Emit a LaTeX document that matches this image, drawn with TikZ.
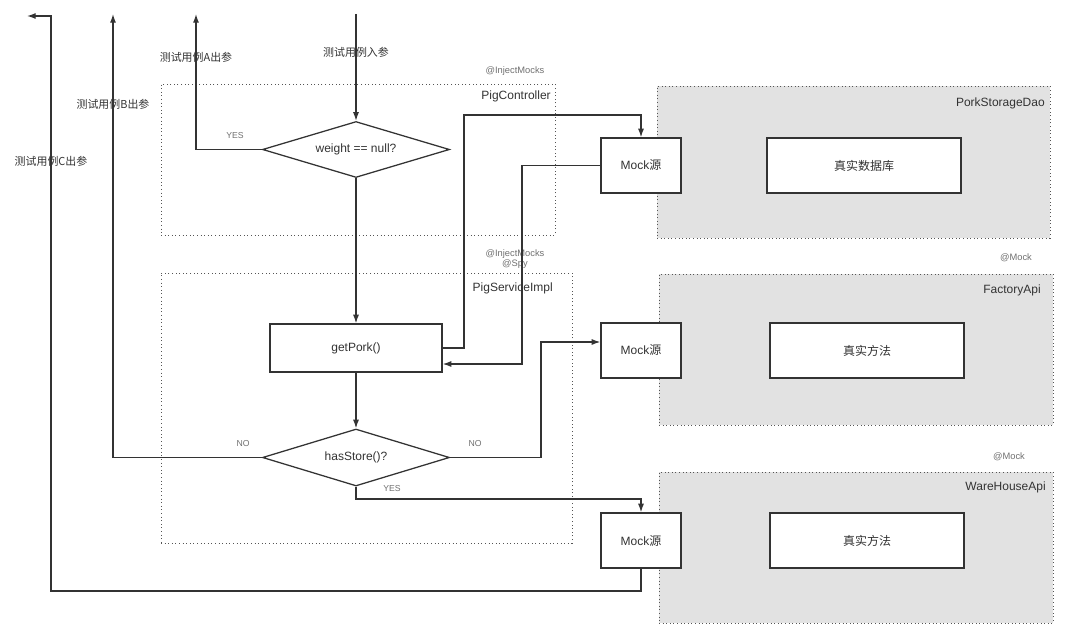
\documentclass[tikz,border=0pt]{standalone}
\usepackage{fontspec}
\setmainfont{Liberation Sans}
\newfontfamily\cjk{Noto Sans CJK SC}
\usetikzlibrary{arrows.meta,shapes.geometric}
\definecolor{linec}{HTML}{333333}
\definecolor{txtc}{HTML}{333333}
\definecolor{annc}{HTML}{707070}
\definecolor{grayfill}{HTML}{E2E2E2}
\definecolor{dotc}{HTML}{555555}
\begin{document}
\begin{tikzpicture}[x=0.75pt,y=-0.75pt,
  conn/.style={draw=linec,line width=0.95pt},
  arr/.style={conn,-{Latex[length=6.5pt,width=4.5pt]}},
  box/.style={draw=linec,line width=0.95pt,fill=white,text=txtc,font=\fontsize{9}{11}\selectfont,inner sep=0pt},
  dec/.style={diamond,draw=linec,line width=0.95pt,fill=white,text=txtc,font=\fontsize{9}{11}\selectfont,inner sep=0pt,aspect=3},
  grp/.style={draw=dotc,dotted,line width=0.7pt,inner sep=0pt},
  ggrp/.style={grp,fill=grayfill},
  title/.style={text=txtc,font=\fontsize{9}{11}\selectfont,inner sep=0pt},
  ann/.style={text=annc,font=\fontsize{7}{8.5}\selectfont,inner sep=0pt,align=center},
  lbl/.style={text=txtc,font=\cjk\fontsize{8.2}{10}\selectfont,inner sep=0pt},
  yn/.style={text=annc,font=\fontsize{6.5}{8}\selectfont,inner sep=0pt}
]
\useasboundingbox (0,0) rectangle (1080,631);

% groups
\node[grp,minimum width=295.5pt,minimum height=113.25pt] (gctrl) at (358,159.5) {};
\node[grp,minimum width=308.25pt,minimum height=202.5pt] (gsvc) at (366.5,408) {};
\node[ggrp,minimum width=294.75pt,minimum height=114pt] (gdao) at (853.5,162) {};
\node[ggrp,minimum width=295.5pt,minimum height=113.25pt] (gfac) at (856,349.5) {};
\node[ggrp,minimum width=295.5pt,minimum height=113.25pt] (gware) at (856,547.5) {};

\node[title,anchor=east] (tctrl) at (551,96) {PigController};
\node[title,anchor=east] (tsvc) at (553,288) {PigServiceImpl};
\node[title,anchor=east] (tdao) at (1045,103) {PorkStorageDao};
\node[title,anchor=east] (tfac) at (1041,290) {FactoryApi};
\node[title,anchor=east] (tware) at (1046,487) {WareHouseApi};

\node[ann] (actrl) at (515,71) {@InjectMocks};
\node[ann] (asvc) at (515,259) {@InjectMocks\\[-1.5pt]@Spy};
\node[ann] (afac) at (1016,258) {@Mock};
\node[ann] (aware) at (1009,457) {@Mock};

% nodes
\node[dec,minimum width=140.25pt,minimum height=42pt] (d1) at (356,149.5) {weight == null?};
\node[box,minimum width=129pt,minimum height=36pt] (gp) at (356,348) {getPork()};
\node[dec,minimum width=140.25pt,minimum height=42.75pt] (d2) at (356,457.5) {hasStore()?};

\node[box,minimum width=60pt,minimum height=41.25pt] (m1) at (641,165.5) {Mock{\cjk 源}};
\node[box,minimum width=145.5pt,minimum height=41.25pt] (r1) at (864,165.5) {\cjk 真实数据库};
\node[box,minimum width=60pt,minimum height=41.25pt] (m2) at (641,350.5) {Mock{\cjk 源}};
\node[box,minimum width=145.5pt,minimum height=41.25pt] (r2) at (867,350.5) {\cjk 真实方法};
\node[box,minimum width=60pt,minimum height=41.25pt] (m3) at (641,540.5) {Mock{\cjk 源}};
\node[box,minimum width=145.5pt,minimum height=41.25pt] (r3) at (867,540.5) {\cjk 真实方法};

% coordinates
\coordinate (inTop) at (356,14);
\coordinate (outA) at (196,14);
\coordinate (outB) at (113,14);
\coordinate (cC1) at (51,591);
\coordinate (cC2) at (51,16);
\coordinate (outC) at (27,16);
\coordinate (c1) at (464,115);
\coordinate (c2) at (522,364);
\coordinate (c3) at (541,342);
\coordinate (c4) at (641,499);

% connectors
\draw[arr] (inTop) -- (d1.north);
\draw[arr] (d1.west) -| (outA);
\draw[arr] (d1.south) -- (gp.north);
\draw[arr] (gp.south) -- (d2.north);
\draw[arr] (d2.west) -| (outB);
\draw[arr] (gp.east) -| (c1) -| (m1.north);
\draw[arr] (m1.west) -| (c2) -- (gp.east |- c2);
\draw[arr] (d2.east) -| (c3) -- (m2.west |- c3);
\draw[arr] (d2.south) |- (c4) -- (m3.north);
\draw[arr] (m3.south) |- (cC1) -- (cC2) -- (outC);

% labels
\node[lbl] (lA) at (196,57) {测试用例A出参};
\node[lbl] (lIn) at (356,52) {测试用例入参};
\node[lbl] (lB) at (113,104) {测试用例B出参};
\node[lbl] (lC) at (51,161) {测试用例C出参};
\node[yn] (yes1) at (235,136) {YES};
\node[yn] (no1) at (243,444) {NO};
\node[yn] (no2) at (475,444) {NO};
\node[yn] (yes2) at (392,489) {YES};
\end{tikzpicture}
\end{document}
